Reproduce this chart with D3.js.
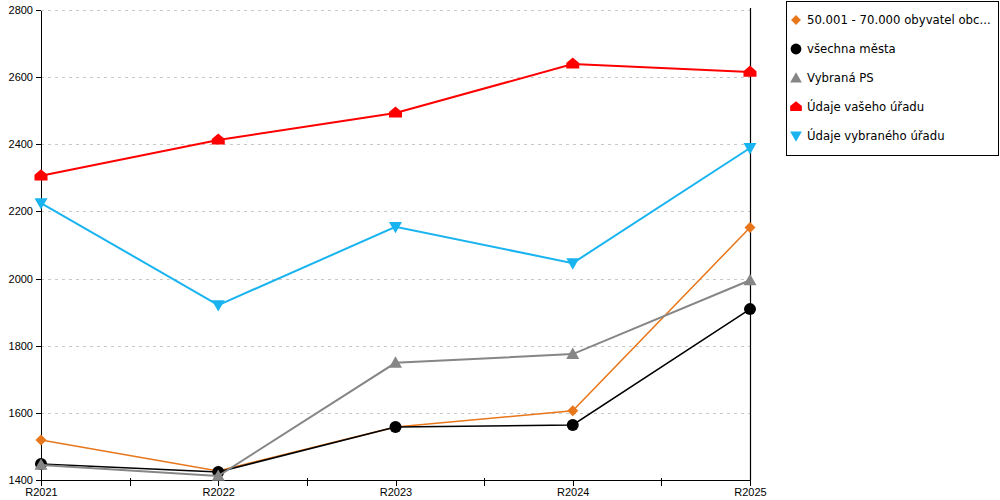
<!DOCTYPE html>
<html>
<head>
<meta charset="utf-8">
<title>Line chart</title>
<style>
  body { margin: 0; background: #fff; }
  svg { font-family: "DejaVu Sans", sans-serif; }
  .grid line { stroke: #c8c8c8; stroke-dasharray: 3,4; }
  .axis path, .axis line { stroke: #000; shape-rendering: crispEdges; }
</style>
</head>
<body>
<script src="https://cdn.jsdelivr.net/npm/d3@7"></script>
<script>
var years = ["R2021", "R2022", "R2023", "R2024", "R2025"];
var yTicks = [1400, 1600, 1800, 2000, 2200, 2400, 2600, 2800];

var seriesNames = ["50.001 - 70.000 obyvatel obc...", "všechna města", "Vybraná PS", "Údaje vašeho úřadu", "Údaje vybraného úřadu"];
var seriesColors = ["#e8761a", "#000000", "#868686", "#ff0000", "#19b4f0"];
var seriesSymbols = ["diamond", "circle", "triangle", "house", "triangleDown"];

var obce = [1519, 1427, 1558, 1606, 2152];
var mesta = [1448, 1424, 1558, 1564, 1909];
var vybranaPS = [1445, 1412, 1749, 1775, 1995];
var vasUrad = [2306, 2413, 2493, 2639, 2615];
var vybranyUrad = [2225, 1921, 2154, 2046, 2389];

var seriesValues = [obce, mesta, vybranaPS, vasUrad, vybranyUrad];
var lineWidths = [1.5, 1.5, 2, 2, 2];

var W = 1000, H = 500;
var plotLeft = 41, plotRight = 750, plotTop = 10, plotBottom = 480;

var svg = d3.select("body").append("svg")
    .attr("width", W)
    .attr("height", H);

var x = d3.scalePoint().domain(years).range([plotLeft, plotRight]);
var y = d3.scaleLinear().domain([1400, 2800]).range([plotBottom, plotTop]);

// gridlines
svg.append("g").attr("class", "grid")
  .selectAll("line")
  .data(yTicks.slice(1))
  .enter().append("line")
    .attr("x1", plotLeft).attr("x2", plotRight)
    .attr("y1", function (d) { return Math.round(y(d)) + 0.5; })
    .attr("y2", function (d) { return Math.round(y(d)) + 0.5; });

// y axis
var gY = svg.append("g")
    .attr("class", "axis")
    .attr("transform", "translate(" + plotLeft + ",0)")
    .call(d3.axisLeft(y).tickValues(yTicks).tickSize(5).tickSizeOuter(0).tickFormat(d3.format("d")));
gY.selectAll("text").attr("font-size", 11).attr("fill", "#000").attr("x", -8);

// right border line
svg.append("line")
    .attr("x1", plotRight + 0.5).attr("x2", plotRight + 0.5)
    .attr("y1", plotTop - 2).attr("y2", plotBottom)
    .attr("stroke", "#000").attr("stroke-width", 1.2);

// x axis
var gX = svg.append("g")
    .attr("class", "axis")
    .attr("transform", "translate(0," + plotBottom + ")")
    .call(d3.axisBottom(x).tickSize(6).tickSizeOuter(0));
gX.select(".domain").attr("stroke-width", 1.2);
gX.selectAll("text").attr("font-size", 11).attr("fill", "#000").attr("dy", "0.95em").attr("y", 6);

// minor ticks between categories
var mids = years.slice(1).map(function (d, i) { return (x(years[i]) + x(d)) / 2; });
gX.selectAll(".mid")
  .data(mids)
  .enter().append("line")
    .attr("class", "mid")
    .attr("x1", function (d) { return Math.round(d) + 0.5; })
    .attr("x2", function (d) { return Math.round(d) + 0.5; })
    .attr("y1", -2).attr("y2", 6)
    .attr("stroke", "#000");

// marker shapes
function symbolPath(kind, s) {
  if (kind === "diamond") {
    return "M0," + (-s) + "L" + s + ",0L0," + s + "L" + (-s) + ",0Z";
  }
  if (kind === "circle") {
    return d3.symbol().type(d3.symbolCircle).size(Math.PI * s * s)();
  }
  if (kind === "triangle") {
    return "M0," + (-s) + "L" + s + "," + (s * 0.75) + "L" + (-s) + "," + (s * 0.75) + "Z";
  }
  if (kind === "triangleDown") {
    return "M0," + s + "L" + s + "," + (-s * 0.75) + "L" + (-s) + "," + (-s * 0.75) + "Z";
  }
  // house
  return "M0," + (-s) + "L" + s + "," + (-s * 0.15) + "L" + s + "," + (s * 0.7) +
         "L" + (-s) + "," + (s * 0.7) + "L" + (-s) + "," + (-s * 0.15) + "Z";
}
var markerSize = [5.5, 6, 6.5, 6.5, 6.5];

var line = d3.line()
    .x(function (d, i) { return x(years[i]); })
    .y(function (d) { return y(d); });

seriesValues.forEach(function (vals, k) {
  var g = svg.append("g");
  g.append("path")
      .datum(vals)
      .attr("d", line)
      .attr("fill", "none")
      .attr("stroke", seriesColors[k])
      .attr("stroke-width", lineWidths[k]);
  g.selectAll(".pt")
    .data(vals)
    .enter().append("path")
      .attr("class", "pt")
      .attr("transform", function (d, i) { return "translate(" + x(years[i]) + "," + y(d) + ")"; })
      .attr("d", symbolPath(seriesSymbols[k], markerSize[k]))
      .attr("fill", seriesColors[k]);
});

// legend
var legend = svg.append("g");
legend.append("rect")
    .attr("x", 786.5).attr("y", 1.5)
    .attr("width", 212).attr("height", 154)
    .attr("fill", "#fff").attr("stroke", "#000");

var item = legend.selectAll(".item")
  .data(seriesNames)
  .enter().append("g")
    .attr("class", "item")
    .attr("transform", function (d, i) { return "translate(796," + (20 + i * 29) + ")"; });
item.append("path")
    .attr("d", function (d, i) { return symbolPath(seriesSymbols[i], markerSize[i] * 0.9); })
    .attr("fill", function (d, i) { return seriesColors[i]; });
item.append("text")
    .attr("x", 11).attr("dy", "0.35em")
    .attr("font-size", 11.7)
    .text(function (d) { return d; });
</script>
</body>
</html>
